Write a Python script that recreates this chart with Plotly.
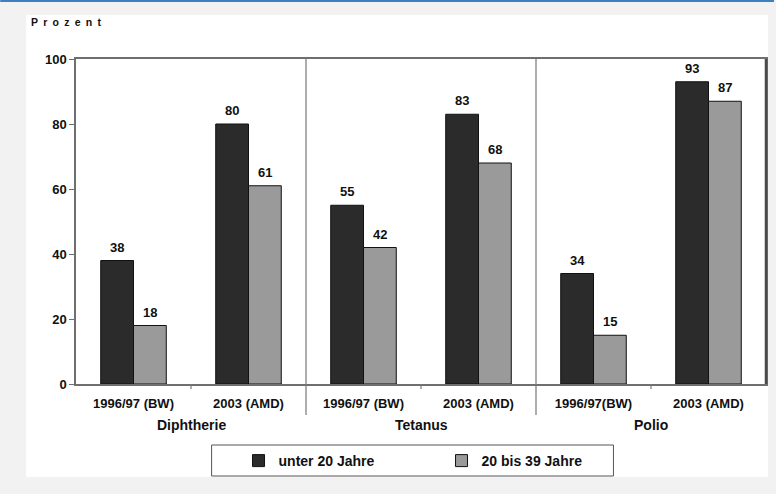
import plotly.graph_objects as go

# Impfquoten nach Erhebung und Altersgruppe
categories = ["1996/97 (BW)", "2003 (AMD)", "1996/97 (BW)", "2003 (AMD)", "1996/97(BW)", "2003 (AMD)"]
groups = ["Diphtherie", "Tetanus", "Polio"]
unter_20 = [38, 80, 55, 83, 34, 93]
bis_39 = [18, 61, 42, 68, 15, 87]
y_ticks = [0, 20, 40, 60, 80, 100]

FONT = "Liberation Sans, Arial, sans-serif"
W, H = 776, 494
L, R, T, B = 76, 8, 59, 110
PW, PH = W - L - R, H - T - B
BARGAP = 0.43


def px_x(p):
    return (p - L) / PW


def px_y(p):
    return (H - B - p) / PH


xs = list(range(len(categories)))

fig = go.Figure()
fig.add_trace(go.Bar(
    x=xs, y=unter_20, name="unter 20 Jahre",
    marker=dict(color="#2b2b2b", line=dict(color="#111111", width=1)),
))
fig.add_trace(go.Bar(
    x=xs, y=bis_39, name="20 bis 39 Jahre",
    marker=dict(color="#9a9a9a", line=dict(color="#111111", width=1)),
))

shapes = []
# white panel behind the chart
shapes.append(dict(type="rect", xref="paper", yref="paper",
                   x0=px_x(26), x1=px_x(770), y0=px_y(477), y1=px_y(15),
                   fillcolor="white", line=dict(width=0), layer="below"))
# blue rule at the top of the page
shapes.append(dict(type="line", xref="paper", yref="paper",
                   x0=px_x(0), x1=px_x(W), y0=px_y(1), y1=px_y(1),
                   line=dict(color="#3d7fc1", width=2)))
# separators between disease groups
for xv in [1.5, 3.5]:
    shapes.append(dict(type="line", xref="x", yref="paper",
                       x0=xv, x1=xv, y0=px_y(415), y1=1,
                       line=dict(color="#777777", width=1.2)))
# small ticks between survey categories
for xv in [0.5, 2.5, 4.5]:
    shapes.append(dict(type="line", xref="x", yref="paper",
                       x0=xv, x1=xv, y0=px_y(389), y1=0,
                       line=dict(color="#777777", width=1.2)))
# right edge of the frame, slightly heavier
shapes.append(dict(type="line", xref="paper", yref="paper",
                   x0=1, x1=1, y0=0, y1=1,
                   line=dict(color="#4a4a4a", width=2.5)))
# legend frame
shapes.append(dict(type="rect", xref="paper", yref="paper",
                   x0=px_x(212), x1=px_x(615), y0=px_y(476), y1=px_y(445),
                   fillcolor="white", line=dict(color="#555555", width=1)))

annotations = []
# value labels above each bar
half = (1 - BARGAP) / 4
for offset, series in [(-half, unter_20), (half, bis_39)]:
    for xv, v in zip(xs, series):
        annotations.append(dict(x=xv + offset, xref="x", y=v, yref="y",
                                text=str(v), showarrow=False,
                                xanchor="center", yanchor="bottom", yshift=4,
                                font=dict(family=FONT, size=13, color="#111111", weight="bold")))
for i, g in enumerate(groups):
    annotations.append(dict(x=2 * i + 0.5, xref="x", y=px_y(425), yref="paper",
                            text=g, showarrow=False,
                            font=dict(family=FONT, size=14, color="#111111", weight="bold"),
                            xanchor="center", yanchor="middle"))
annotations.append(dict(x=px_x(29), xref="paper", y=px_y(22), yref="paper",
                        text="P\u2002r\u2002o\u2002z\u2002e\u2002n\u2002t", showarrow=False,
                        font=dict(family=FONT, size=10.5, color="#111111", weight="bold"),
                        xanchor="left", yanchor="middle"))

fig.update_layout(
    width=W, height=H,
    margin=dict(l=L, r=R, t=T, b=B),
    paper_bgcolor="#f2f2f2",
    plot_bgcolor="white",
    barmode="group",
    bargap=BARGAP,
    bargroupgap=0,
    showlegend=True,
    legend=dict(orientation="h", x=px_x(239), xanchor="left", y=px_y(461), yanchor="middle",
                bgcolor="rgba(0,0,0,0)", borderwidth=0,
                entrywidth=158, entrywidthmode="pixels",
                font=dict(family=FONT, size=14, color="#111111", weight="bold")),
    shapes=shapes,
    annotations=annotations,
    xaxis=dict(range=[-0.5, 5.5], tickvals=xs, ticktext=categories,
               ticks="", showgrid=False, zeroline=False, ticklabelstandoff=7,
               showline=True, linecolor="#6f6f6f", linewidth=1.5, mirror=True,
               tickfont=dict(family=FONT, size=13, color="#111111", weight="bold"),
               fixedrange=True),
    yaxis=dict(range=[0, 100], tickvals=y_ticks, ticks="outside", ticklen=5,
               tickcolor="#6f6f6f", showgrid=False, zeroline=False,
               showline=True, linecolor="#6f6f6f", linewidth=1.5, mirror=True,
               tickfont=dict(family=FONT, size=13, color="#111111", weight="bold"),
               fixedrange=True),
)

fig.write_html("out.html")
